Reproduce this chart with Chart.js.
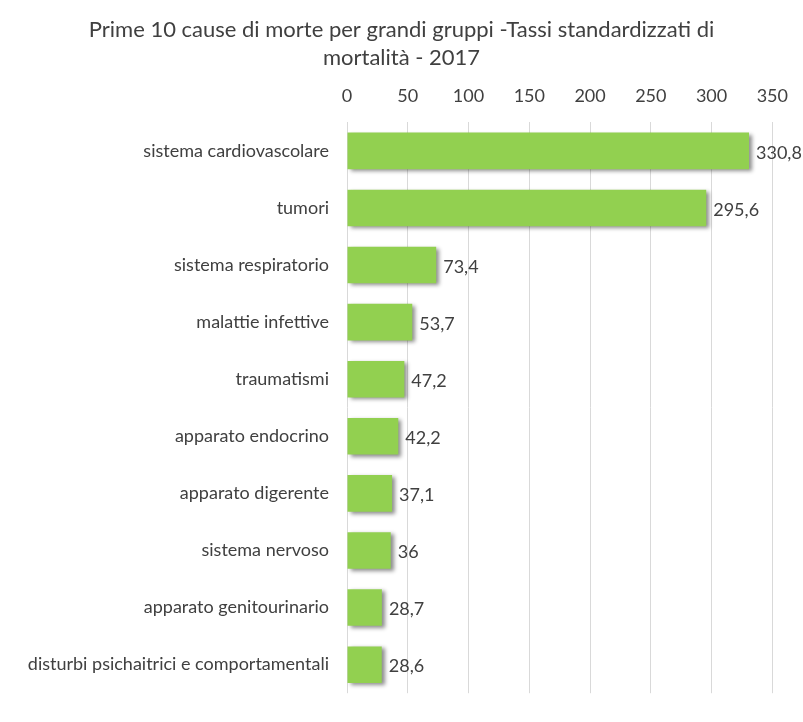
<!DOCTYPE html>
<html>
<head>
<meta charset="utf-8">
<script src="https://cdn.jsdelivr.net/npm/chart.js@4/dist/chart.umd.min.js"></script>
<style>
  html, body { margin: 0; padding: 0; background: #ffffff; }
  #wrap { width: 803px; height: 722px; position: relative; }
</style>
</head>
<body>
<div id="wrap"><canvas id="c" width="803" height="722"></canvas></div>
<script>
// Prime 10 cause di morte – tassi standardizzati di mortalità, 2017
const categories = [
  'sistema cardiovascolare',
  'tumori',
  'sistema respiratorio',
  'malattie infettive',
  'traumatismi',
  'apparato endocrino',
  'apparato digerente',
  'sistema nervoso',
  'apparato genitourinario',
  'disturbi psichaitrici e comportamentali'
];
const rates = [330.8, 295.6, 73.4, 53.7, 47.2, 42.2, 37.1, 36, 28.7, 28.6];
const xTicks = [0, 50, 100, 150, 200, 250, 300, 350];
const titleLines = ['Prime 10 cause di morte per grandi gruppi -Tassi standardizzati di', 'mortalità - 2017'];

const FONT = 'Lato, "Open Sans", sans-serif';
const TEXT = '#404040';

const fmt = v => v.toLocaleString('it-IT', { maximumFractionDigits: 1 });

// soft drop shadow under the bars
const barShadow = {
  id: 'barShadow',
  beforeDatasetsDraw(chart) {
    const ctx = chart.ctx;
    ctx.save();
    ctx.shadowColor = 'rgba(0,0,0,0.45)';
    ctx.shadowBlur = 4;
    ctx.shadowOffsetX = 3;
    ctx.shadowOffsetY = 2;
  },
  afterDatasetsDraw(chart) {
    chart.ctx.restore();
  }
};

// value written just past the end of each bar
const valueLabels = {
  id: 'valueLabels',
  afterDatasetsDraw(chart) {
    const ctx = chart.ctx;
    const meta = chart.getDatasetMeta(0);
    ctx.save();
    ctx.font = '18px ' + FONT;
    ctx.fillStyle = TEXT;
    ctx.textAlign = 'left';
    ctx.textBaseline = 'middle';
    meta.data.forEach((bar, i) => {
      ctx.fillText(fmt(rates[i]), bar.x + 7, bar.y + 2);
    });
    ctx.restore();
  }
};

new Chart(document.getElementById('c'), {
  type: 'bar',
  data: {
    labels: categories,
    datasets: [{
      data: rates,
      backgroundColor: '#92d050',
      borderWidth: 0,
      barPercentage: 0.64,
      categoryPercentage: 1
    }]
  },
  options: {
    indexAxis: 'y',
    responsive: false,
    animation: false,
    layout: { padding: { left: 27, right: 27, top: 0, bottom: 0 } },
    plugins: {
      legend: { display: false },
      tooltip: { enabled: false },
      title: {
        display: true,
        text: titleLines,
        color: TEXT,
        font: { family: FONT, size: 22, weight: 'normal', lineHeight: 1.28 },
        padding: { top: 16, bottom: 0 }
      }
    },
    scales: {
      x: {
        position: 'top',
        min: 0,
        max: 350,
        afterBuildTicks(scale) { scale.ticks = xTicks.map(v => ({ value: v })); },
        afterFit(scale) { scale.height = 50; },
        grid: { color: '#d9d9d9', drawTicks: false, lineWidth: 1 },
        border: { display: false },
        ticks: {
          color: TEXT,
          padding: 15,
          maxRotation: 0,
          font: { family: FONT, size: 18 }
        }
      },
      y: {
        afterFit(scale) { scale.width = 320; },
        grid: { display: false, drawTicks: false },
        border: { display: false },
        ticks: {
          color: TEXT,
          padding: 18,
          autoSkip: false,
          font: { family: FONT, size: 18 }
        }
      }
    }
  },
  plugins: [barShadow, valueLabels]
});
</script>
</body>
</html>
